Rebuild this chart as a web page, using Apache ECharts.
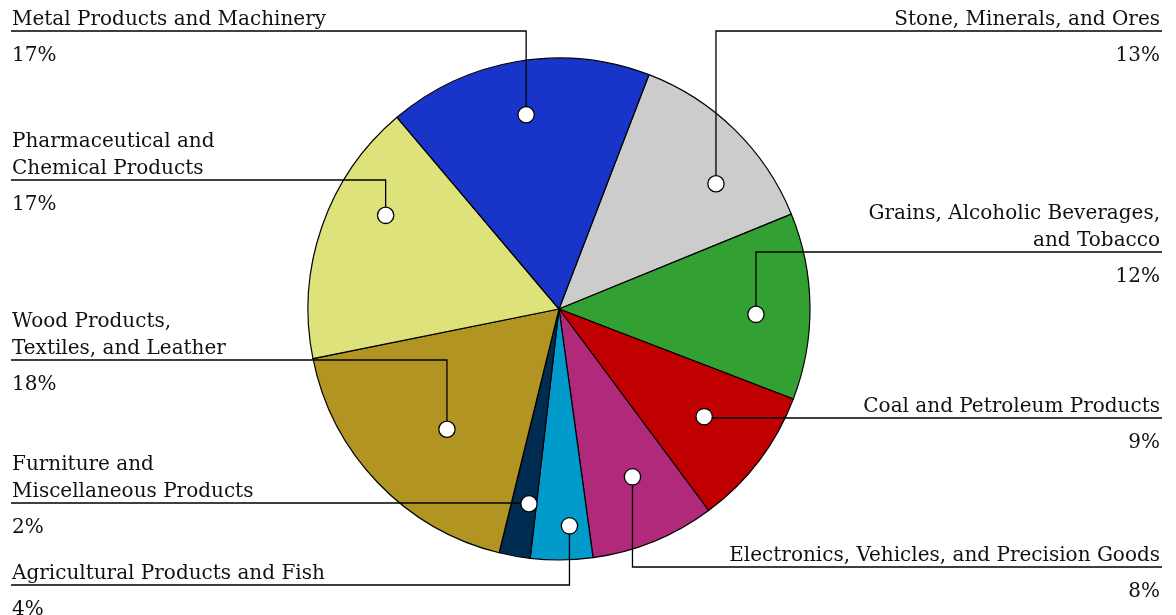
<!DOCTYPE html>
<html>
<head>
<meta charset="utf-8">
<script src="https://cdn.jsdelivr.net/npm/echarts@6/dist/echarts.min.js"></script>
<style>
  html, body { margin: 0; padding: 0; background: #fff; }
  #chart { width: 1176px; height: 615px; }
</style>
</head>
<body>
<div id="chart"></div>
<script>
// Shares of each product group, clockwise from the top
const categories = [
  'Stone, Minerals, and Ores',
  'Grains, Alcoholic Beverages,\nand Tobacco',
  'Coal and Petroleum Products',
  'Electronics, Vehicles, and Precision Goods',
  'Agricultural Products and Fish',
  'Furniture and\nMiscellaneous Products',
  'Wood Products,\nTextiles, and Leather',
  'Pharmaceutical and\nChemical Products',
  'Metal Products and Machinery'
];
const shares = [13, 12, 9, 8, 4, 2, 18, 17, 17];
const sliceColors = [
  '#cccccc', '#32a032', '#c00000', '#b0297a', '#009acb',
  '#012c52', '#b29423', '#dee27b', '#1935c9'
];

// Leader-line layout: side of the page, height of the horizontal run,
// and where the anchor dot sits inside the slice (share of the slice's
// sweep, share of the radius).
const leaderSide = ['right', 'right', 'right', 'right', 'left', 'left', 'left', 'left', 'left'];
const leaderY = [31, 252, 418, 567, 585, 503, 360, 180, 31];
const anchorSweep = [0.65, 0.55, 0.48, 0.45, 0.35, 0.3, 0.45, 0.65, 0.5];
const anchorRadius = [0.8, 0.785, 0.72, 0.73, 0.865, 0.785, 0.655, 0.785, 0.785];

const CX = 559, CY = 309, R = 251;
const START = 21; // degrees clockwise from 12 o'clock
const LEFT_EDGE = 11, RIGHT_EDGE = 1162;
const FONT = 'DejaVu Serif';
const FONT_SIZE = 20;

const total = shares.reduce((a, b) => a + b, 0);

function anchorPoint(i) {
  let before = 0;
  for (let k = 0; k < i; k++) before += shares[k];
  const a0 = START + before / total * 360;
  const a1 = a0 + shares[i] / total * 360;
  const th = (a0 + (a1 - a0) * anchorSweep[i]) * Math.PI / 180;
  const r = R * anchorRadius[i];
  return [CX + r * Math.sin(th), CY - r * Math.cos(th)];
}

const pieBase = {
  type: 'pie',
  center: [CX, CY],
  radius: R,
  startAngle: 90 - START,
  clockwise: true,
  avoidLabelOverlap: false,
  silent: true,
  emphasis: { disabled: true }
};

const chart = echarts.init(document.getElementById('chart'), null, { renderer: 'canvas' });

chart.setOption({
  animation: false,
  backgroundColor: '#ffffff',
  series: [
    Object.assign({}, pieBase, {
      // the coloured slices
      z: 2,
      itemStyle: { borderColor: '#000', borderWidth: 1.2 },
      label: { show: false },
      labelLine: { show: false },
      data: categories.map((name, i) => ({
        name: name, value: shares[i], itemStyle: { color: sliceColors[i] }
      }))
    }),
    Object.assign({}, pieBase, {
      // names, percentages and leader lines, drawn over the slices
      z: 5,
      itemStyle: { color: 'rgba(0,0,0,0)', borderWidth: 0 },
      data: categories.map((name, i) => ({ name: name, value: shares[i] })),
      label: {
        show: true,
        position: 'outside',
        formatter: p => p.name.split('\n').map(s => '{n|' + s + '}').join('\n') + '\n{p|' + p.value + '%}',
        rich: {
          n: { fontFamily: FONT, fontSize: FONT_SIZE, lineHeight: 27, color: '#111' },
          p: { fontFamily: FONT, fontSize: FONT_SIZE, lineHeight: 46, color: '#111' }
        }
      },
      labelLine: {
        show: true,
        smooth: false,
        lineStyle: { color: '#000', width: 1.3 }
      },
      labelLayout: function (p) {
        const i = p.dataIndex;
        const a = anchorPoint(i);
        const ly = leaderY[i];
        const right = leaderSide[i] === 'right';
        const ex = right ? RIGHT_EDGE : LEFT_EDGE;
        return {
          x: right ? RIGHT_EDGE - 2 : LEFT_EDGE + 1,
          y: ly + 48,
          align: right ? 'right' : 'left',
          verticalAlign: 'bottom',
          labelLinePoints: [[a[0], a[1]], [a[0], ly], [ex, ly]]
        };
      }
    }),
    Object.assign({}, pieBase, {
      // anchor dots at the inner end of each leader line
      z: 6,
      itemStyle: { color: 'rgba(0,0,0,0)', borderWidth: 0 },
      data: categories.map((name, i) => ({ name: name, value: shares[i] })),
      label: {
        show: true,
        position: 'outside',
        formatter: '{c| }',
        rich: {
          c: {
            width: 15, height: 15, borderRadius: 9,
            backgroundColor: '#fff', borderColor: '#000', borderWidth: 1.3
          }
        }
      },
      labelLine: { show: false },
      labelLayout: function (p) {
        const a = anchorPoint(p.dataIndex);
        return { x: a[0], y: a[1], align: 'center', verticalAlign: 'middle' };
      }
    })
  ]
});
</script>
</body>
</html>
